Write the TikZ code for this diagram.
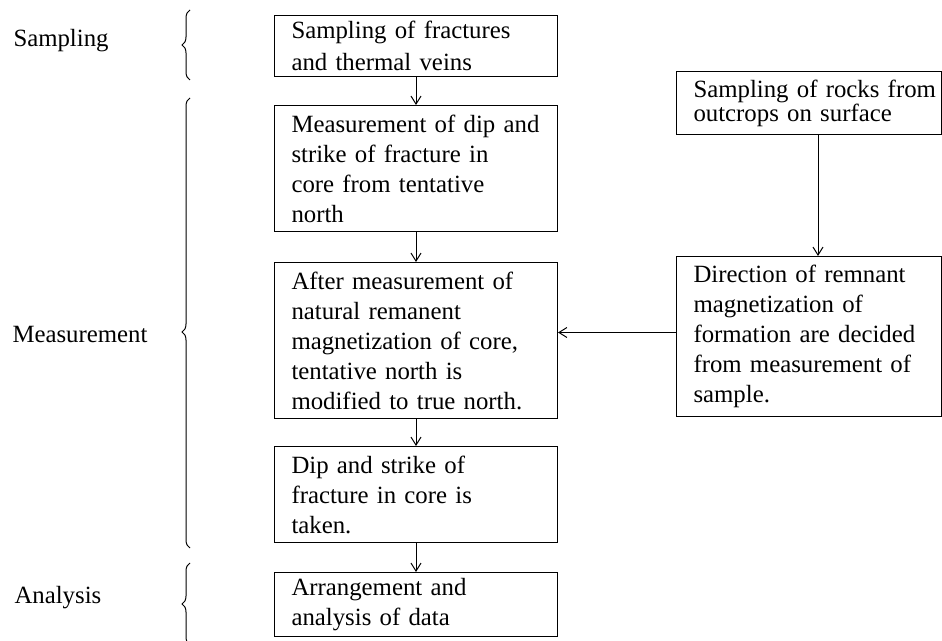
\documentclass[tikz,border=0pt]{standalone}
\usepackage{fontspec}
\setmainfont{Liberation Serif}
\usetikzlibrary{arrows.meta,decorations.pathreplacing}
\begin{document}
\begin{tikzpicture}[x=0.5pt,y=-0.5pt,line width=0.5pt,
        txt/.style={font=\fontsize{12.4}{15}\selectfont},
        stepbox/.style={txt, draw, anchor=north west, align=left, inner xsep=0pt, inner ysep=1pt,
            text width=141.5pt, minimum height=#1, execute at begin node={\leftskip=8.5pt}},
        sidebox/.style={stepbox=#1, text width=132.5pt},
        flow/.style={-{Straight Barb[length=4pt,width=5pt]}},
        curly/.style={decorate, decoration={brace, amplitude=4pt}}]
        \useasboundingbox (0,0) rectangle (942,641);
        \clip (0,0) rectangle (942,641);
        \node[txt, inner sep=0pt, anchor=base west] (lsamp) at (13,47) {Sampling};
        \node[txt, inner sep=0pt, anchor=base west] (lmeas) at (12,343) {Measurement};
        \node[txt, inner sep=0pt, anchor=base west] (lanal) at (14,603) {Analysis};
        \draw[curly] (190,80) -- (190,10);
        \draw[curly, decoration={aspect=0.48}] (190,548) -- (190,98);
        \draw[curly] (190,645) -- (190,563);
        \node[stepbox=30.5pt, font=\fontsize{12.4}{16}\selectfont] (sampcore) at (274,15) {Sampling of fractures\\and thermal veins};
        \node[stepbox=63pt] (tentdir) at (274,105) {Measurement of dip and\\strike of fracture in\\core from tentative\\north};
        \node[stepbox=78pt] (truenorth) at (274,262) {After measurement of\\natural remanent\\magnetization of core,\\tentative north is\\modified to true north.};
        \node[stepbox=48pt] (dipstrike) at (274,446) {Dip and strike of\\fracture in core is\\taken.};
        \node[stepbox=32pt] (arrange) at (274,572) {Arrangement and\\analysis of data};
        \node[sidebox=31.5pt, font=\fontsize{12.4}{12}\selectfont] (samprock) at (676,71) {Sampling of rocks from\\outcrops on surface};
        \node[sidebox=80pt] (remnant) at (676,256) {Direction of remnant\\magnetization of\\formation are decided\\from measurement of\\sample.};
        \draw[flow] (sampcore) -- (tentdir);
        \draw[flow] (tentdir) -- (truenorth);
        \draw[flow] (truenorth) -- (dipstrike);
        \draw[flow] (dipstrike) -- (arrange);
        \draw[flow] ([xshift=4.5pt]samprock.south) -- ([xshift=4.5pt]remnant.north);
        \draw[flow] ([yshift=2pt]remnant.west) -- ([yshift=2pt]remnant.west -| truenorth.east);
    \end{tikzpicture}
\end{document}
